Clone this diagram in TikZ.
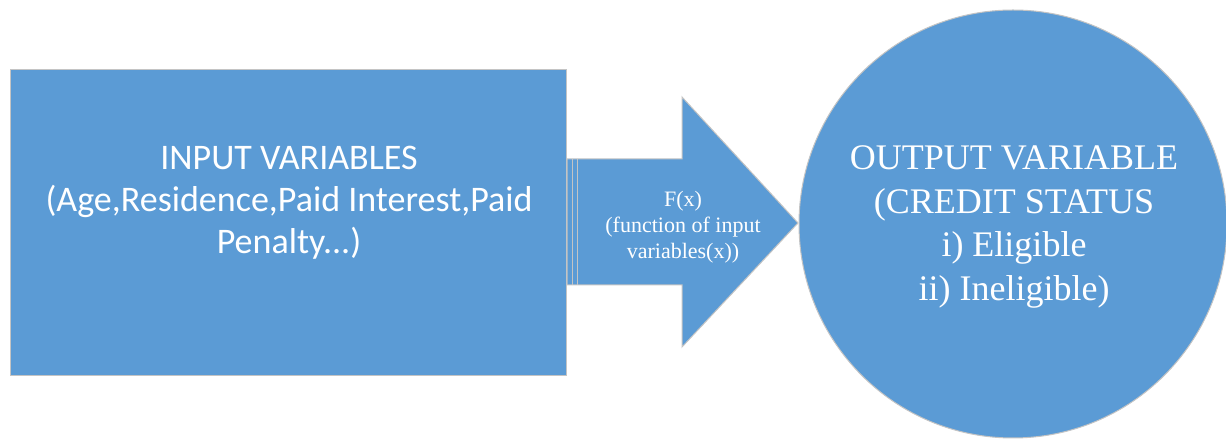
\documentclass[tikz,border=0pt]{standalone}
\usepackage{fontspec}
\setmainfont{Liberation Serif}
\newfontfamily\cali{Carlito}
\definecolor{officeblue}{HTML}{5B9BD5}
\definecolor{edgegrey}{HTML}{C4C4C4}
\begin{document}
\begin{tikzpicture}[x=1pt,y=1pt,
  shapefill/.style={fill=officeblue,draw=edgegrey,line width=1pt},
  whitetext/.style={text=white,align=center,inner sep=0pt}]
\useasboundingbox (0,0) rectangle (1226,441);
% input rectangle
\node[shapefill,rectangle,minimum width=556,minimum height=306,anchor=north west] (inp) at (10,372) {};
\node[whitetext,font=\cali\fontsize{36}{42}\selectfont] (inptext) at (289,238)
  {INPUT VARIABLES\\(Age,Residence,Paid Interest,Paid\\Penalty...)};
% arrow
\coordinate (a1) at (567,282);
\coordinate (a2) at (682,282);
\coordinate (a3) at (682,344);
\coordinate (tip) at (798,218);
\coordinate (a5) at (682,94);
\coordinate (a6) at (682,156);
\coordinate (a7) at (567,156);
\draw[shapefill] (a1) -- (a2) -- (a3) -- (tip) -- (a5) -- (a6) -- (a7) -- cycle;
\draw[edgegrey,line width=1pt] (572,282) -- (572,156) (577,282) -- (577,156);
\node[whitetext,font=\fontsize{22}{26}\selectfont] (ftext) at (683,214)
  {F(x)\\(function of input\\variables(x))};
% output circle
\node[shapefill,circle,minimum size=428] (out) at (1013,217) {};
\node[whitetext,font=\fontsize{36}{43.5}\selectfont] (outtext) at (1014,214)
  {OUTPUT VARIABLE\\(CREDIT STATUS\\i) Eligible\\ii) Ineligible)};
\end{tikzpicture}
\end{document}
